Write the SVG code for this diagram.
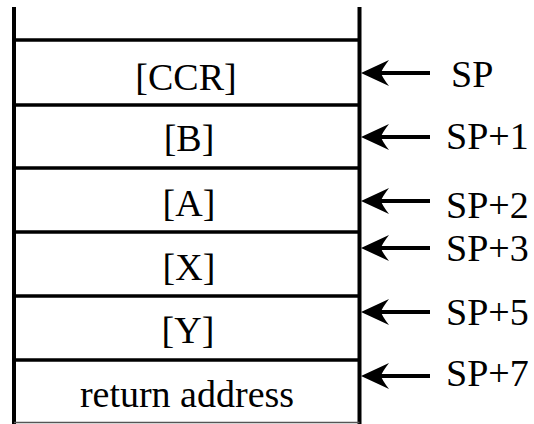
<svg xmlns="http://www.w3.org/2000/svg" width="534" height="424" viewBox="0 0 534 424">
<style>
.frame{stroke:#000;stroke-width:4;fill:none}
.sep{stroke:#000;stroke-width:3.5;fill:none}
.cell{font-family:"Liberation Serif","Times New Roman",serif;font-size:38px;fill:#000;text-anchor:middle}
.lbl{font-family:"Liberation Serif","Times New Roman",serif;font-size:38px;fill:#000}
.shaft{stroke:#000;stroke-width:4;fill:none}
</style>
<defs>
<path id="head" d="M0,0 L28,-13 Q21,-4 20,0 Q21,4 28,13 Z" fill="#000"/>
</defs>
<g id="stack">
<line class="frame" x1="14" y1="7" x2="14" y2="424"/>
<line class="frame" x1="359.5" y1="7" x2="359.5" y2="424"/>
<line class="sep" x1="14" y1="40" x2="359.5" y2="40"/>
<line class="sep" x1="14" y1="105" x2="359.5" y2="105"/>
<line class="sep" x1="14" y1="168" x2="359.5" y2="168"/>
<line class="sep" x1="14" y1="232" x2="359.5" y2="232"/>
<line class="sep" x1="14" y1="296" x2="359.5" y2="296"/>
<line class="sep" x1="14" y1="360" x2="359.5" y2="360"/>
<line x1="14" y1="422.5" x2="359.5" y2="422.5" stroke="#555" stroke-width="1.5"/>
</g>
<g id="cell-ccr"><text class="cell" x="186" y="90">[CCR]</text></g>
<g id="cell-b"><text class="cell" x="189" y="151">[B]</text></g>
<g id="cell-a"><text class="cell" x="189" y="216">[A]</text></g>
<g id="cell-x"><text class="cell" x="189" y="280">[X]</text></g>
<g id="cell-y"><text class="cell" x="188" y="343">[Y]</text></g>
<g id="cell-ret"><text class="cell" x="187" y="407">return address</text></g>
<g id="connectors">
<line class="shaft" x1="380" y1="73" x2="430" y2="73"/><use href="#head" x="361" y="73"/>
<line class="shaft" x1="380" y1="137" x2="430" y2="137"/><use href="#head" x="361" y="137"/>
<line class="shaft" x1="380" y1="201" x2="430" y2="201"/><use href="#head" x="361" y="201"/>
<line class="shaft" x1="380" y1="248" x2="430" y2="248"/><use href="#head" x="361" y="248"/>
<line class="shaft" x1="380" y1="312" x2="430" y2="312"/><use href="#head" x="361" y="312"/>
<line class="shaft" x1="380" y1="376" x2="430" y2="376"/><use href="#head" x="361" y="376"/>
</g>
<g id="labels">
<text class="lbl" x="451" y="87">SP</text>
<text class="lbl" x="446" y="149">SP+1</text>
<text class="lbl" x="446" y="218">SP+2</text>
<text class="lbl" x="446" y="261">SP+3</text>
<text class="lbl" x="446" y="325">SP+5</text>
<text class="lbl" x="446" y="386">SP+7</text>
</g>
</svg>
